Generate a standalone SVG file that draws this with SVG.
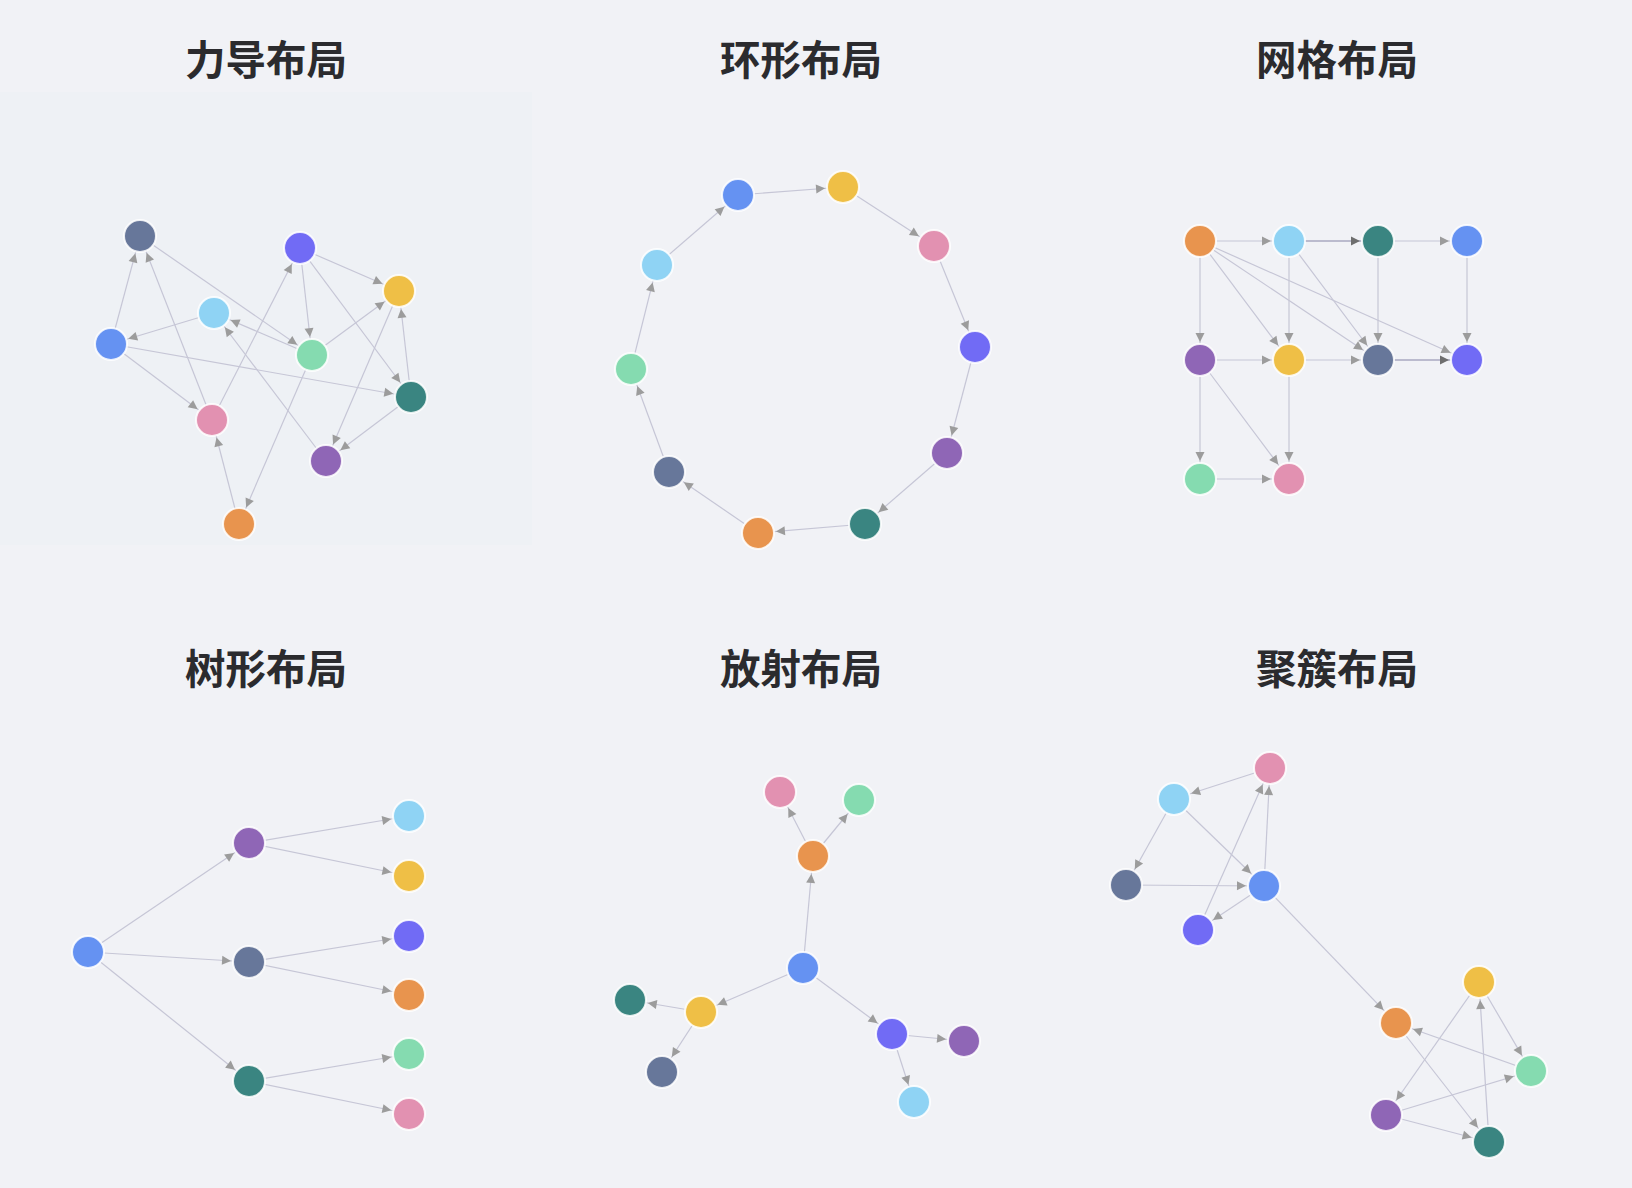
<svg xmlns="http://www.w3.org/2000/svg" width="1632" height="1188" viewBox="0 0 1632 1188">
<style>
.t{font-family:"Noto Sans CJK SC","Noto Sans",sans-serif;font-weight:700;font-size:40.5px;fill:#2b2b2e;text-anchor:middle}
.e{stroke:#c6c6d6;stroke-width:1.2;fill:none;marker-end:url(#ah)}
.d{stroke:#a9a9c0;stroke-width:1.4;fill:none;marker-end:url(#ahd)}
circle{stroke:#fff;stroke-opacity:.85;stroke-width:2}
.sl{fill:#67779a}.in{fill:#716bf5}.ye{fill:#efbf46}.lb{fill:#8fd3f4}.bl{fill:#6592f2}
.gr{fill:#85dbb0}.te{fill:#3a8581}.pk{fill:#e291b1}.pu{fill:#8f66b6}.or{fill:#e8944e}
</style>
<defs>
<marker id="ah" markerUnits="userSpaceOnUse" markerWidth="10" markerHeight="10" refX="27" refY="0" orient="auto" overflow="visible"><path d="M0,-4.5 L9,0 L0,4.5 z" fill="#9c9c9c"/></marker>
<marker id="ahd" markerUnits="userSpaceOnUse" markerWidth="10" markerHeight="10" refX="27" refY="0" orient="auto" overflow="visible"><path d="M0,-4.5 L9,0 L0,4.5 z" fill="#6e6e6e"/></marker>
</defs>
<rect width="1632" height="1188" fill="#f1f2f6"/>
<rect x="0" y="92" width="532" height="453" fill="#eef1f5"/>
<g id="titles">
<text class="t" x="266" y="75">力导布局</text>
<text class="t" x="801" y="75">环形布局</text>
<text class="t" x="1337" y="75">网格布局</text>
<text class="t" x="266" y="684">树形布局</text>
<text class="t" x="801" y="684">放射布局</text>
<text class="t" x="1337" y="684">聚簇布局</text>
</g>
<!-- Force layout -->
<g id="edges-force">
<line class="e" x1="111" y1="344" x2="140" y2="236"/>
<line class="e" x1="212" y1="420" x2="140" y2="236"/>
<line class="e" x1="140" y1="236" x2="312" y2="355"/>
<line class="e" x1="214" y1="313" x2="111" y2="344"/>
<line class="e" x1="312" y1="355" x2="214" y2="313"/>
<line class="e" x1="326" y1="461" x2="214" y2="313"/>
<line class="e" x1="212" y1="420" x2="300" y2="248"/>
<line class="e" x1="300" y1="248" x2="399" y2="291"/>
<line class="e" x1="300" y1="248" x2="312" y2="355"/>
<line class="e" x1="300" y1="248" x2="411" y2="397"/>
<line class="e" x1="312" y1="355" x2="399" y2="291"/>
<line class="e" x1="411" y1="397" x2="399" y2="291"/>
<line class="e" x1="399" y1="291" x2="326" y2="461"/>
<line class="e" x1="411" y1="397" x2="326" y2="461"/>
<line class="e" x1="111" y1="344" x2="411" y2="397"/>
<line class="e" x1="111" y1="344" x2="212" y2="420"/>
<line class="e" x1="239" y1="524" x2="212" y2="420"/>
<line class="e" x1="312" y1="355" x2="239" y2="524"/>
</g>
<g id="force-slate"><circle class="sl" cx="140" cy="236" r="16"/></g>
<g id="force-indigo"><circle class="in" cx="300" cy="248" r="16"/></g>
<g id="force-yellow"><circle class="ye" cx="399" cy="291" r="16"/></g>
<g id="force-lightblue"><circle class="lb" cx="214" cy="313" r="16"/></g>
<g id="force-blue"><circle class="bl" cx="111" cy="344" r="16"/></g>
<g id="force-green"><circle class="gr" cx="312" cy="355" r="16"/></g>
<g id="force-teal"><circle class="te" cx="411" cy="397" r="16"/></g>
<g id="force-pink"><circle class="pk" cx="212" cy="420" r="16"/></g>
<g id="force-purple"><circle class="pu" cx="326" cy="461" r="16"/></g>
<g id="force-orange"><circle class="or" cx="239" cy="524" r="16"/></g>
<!-- Circular layout -->
<g id="edges-circular">
<line class="e" x1="738" y1="195" x2="843" y2="187"/>
<line class="e" x1="843" y1="187" x2="934" y2="246"/>
<line class="e" x1="934" y1="246" x2="975" y2="347"/>
<line class="e" x1="975" y1="347" x2="947" y2="453"/>
<line class="e" x1="947" y1="453" x2="865" y2="524"/>
<line class="e" x1="865" y1="524" x2="758" y2="533"/>
<line class="e" x1="758" y1="533" x2="669" y2="472"/>
<line class="e" x1="669" y1="472" x2="631" y2="369"/>
<line class="e" x1="631" y1="369" x2="657" y2="265"/>
<line class="e" x1="657" y1="265" x2="738" y2="195"/>
</g>
<g id="circ-blue"><circle class="bl" cx="738" cy="195" r="16"/></g>
<g id="circ-yellow"><circle class="ye" cx="843" cy="187" r="16"/></g>
<g id="circ-pink"><circle class="pk" cx="934" cy="246" r="16"/></g>
<g id="circ-indigo"><circle class="in" cx="975" cy="347" r="16"/></g>
<g id="circ-purple"><circle class="pu" cx="947" cy="453" r="16"/></g>
<g id="circ-teal"><circle class="te" cx="865" cy="524" r="16"/></g>
<g id="circ-orange"><circle class="or" cx="758" cy="533" r="16"/></g>
<g id="circ-slate"><circle class="sl" cx="669" cy="472" r="16"/></g>
<g id="circ-green"><circle class="gr" cx="631" cy="369" r="16"/></g>
<g id="circ-lightblue"><circle class="lb" cx="657" cy="265" r="16"/></g>
<!-- Grid layout -->
<g id="edges-grid">
<line class="e" x1="1200" y1="241" x2="1289" y2="241"/>
<line class="d" x1="1289" y1="241" x2="1378" y2="241"/>
<line class="e" x1="1378" y1="241" x2="1467" y2="241"/>
<line class="e" x1="1200" y1="241" x2="1200" y2="360"/>
<line class="e" x1="1200" y1="241" x2="1289" y2="360"/>
<line class="e" x1="1200" y1="241" x2="1378" y2="360"/>
<line class="e" x1="1200" y1="241" x2="1467" y2="360"/>
<line class="e" x1="1289" y1="241" x2="1289" y2="360"/>
<line class="e" x1="1289" y1="241" x2="1378" y2="360"/>
<line class="e" x1="1378" y1="241" x2="1378" y2="360"/>
<line class="e" x1="1467" y1="241" x2="1467" y2="360"/>
<line class="e" x1="1200" y1="360" x2="1289" y2="360"/>
<line class="e" x1="1289" y1="360" x2="1378" y2="360"/>
<line class="d" x1="1378" y1="360" x2="1467" y2="360"/>
<line class="e" x1="1200" y1="360" x2="1200" y2="479"/>
<line class="e" x1="1200" y1="360" x2="1289" y2="479"/>
<line class="e" x1="1289" y1="360" x2="1289" y2="479"/>
<line class="e" x1="1200" y1="479" x2="1289" y2="479"/>
</g>
<g id="grid-orange"><circle class="or" cx="1200" cy="241" r="16"/></g>
<g id="grid-lightblue"><circle class="lb" cx="1289" cy="241" r="16"/></g>
<g id="grid-teal"><circle class="te" cx="1378" cy="241" r="16"/></g>
<g id="grid-blue"><circle class="bl" cx="1467" cy="241" r="16"/></g>
<g id="grid-purple"><circle class="pu" cx="1200" cy="360" r="16"/></g>
<g id="grid-yellow"><circle class="ye" cx="1289" cy="360" r="16"/></g>
<g id="grid-slate"><circle class="sl" cx="1378" cy="360" r="16"/></g>
<g id="grid-indigo"><circle class="in" cx="1467" cy="360" r="16"/></g>
<g id="grid-green"><circle class="gr" cx="1200" cy="479" r="16"/></g>
<g id="grid-pink"><circle class="pk" cx="1289" cy="479" r="16"/></g>
<!-- Tree layout -->
<g id="edges-tree">
<line class="e" x1="88" y1="952" x2="249" y2="843"/>
<line class="e" x1="88" y1="952" x2="249" y2="962"/>
<line class="e" x1="88" y1="952" x2="249" y2="1081"/>
<line class="e" x1="249" y1="843" x2="409" y2="816"/>
<line class="e" x1="249" y1="843" x2="409" y2="876"/>
<line class="e" x1="249" y1="962" x2="409" y2="936"/>
<line class="e" x1="249" y1="962" x2="409" y2="995"/>
<line class="e" x1="249" y1="1081" x2="409" y2="1054"/>
<line class="e" x1="249" y1="1081" x2="409" y2="1114"/>
</g>
<g id="tree-root"><circle class="bl" cx="88" cy="952" r="16"/></g>
<g id="tree-purple"><circle class="pu" cx="249" cy="843" r="16"/></g>
<g id="tree-slate"><circle class="sl" cx="249" cy="962" r="16"/></g>
<g id="tree-teal"><circle class="te" cx="249" cy="1081" r="16"/></g>
<g id="tree-lightblue"><circle class="lb" cx="409" cy="816" r="16"/></g>
<g id="tree-yellow"><circle class="ye" cx="409" cy="876" r="16"/></g>
<g id="tree-indigo"><circle class="in" cx="409" cy="936" r="16"/></g>
<g id="tree-orange"><circle class="or" cx="409" cy="995" r="16"/></g>
<g id="tree-green"><circle class="gr" cx="409" cy="1054" r="16"/></g>
<g id="tree-pink"><circle class="pk" cx="409" cy="1114" r="16"/></g>
<!-- Radial layout -->
<g id="edges-radial">
<line class="e" x1="803" y1="968" x2="813" y2="856"/>
<line class="e" x1="813" y1="856" x2="780" y2="792"/>
<line class="e" x1="813" y1="856" x2="859" y2="800"/>
<line class="e" x1="803" y1="968" x2="701" y2="1012"/>
<line class="e" x1="701" y1="1012" x2="630" y2="1000"/>
<line class="e" x1="701" y1="1012" x2="662" y2="1072"/>
<line class="e" x1="803" y1="968" x2="892" y2="1034"/>
<line class="e" x1="892" y1="1034" x2="964" y2="1041"/>
<line class="e" x1="892" y1="1034" x2="914" y2="1102"/>
</g>
<g id="radial-pink"><circle class="pk" cx="780" cy="792" r="16"/></g>
<g id="radial-green"><circle class="gr" cx="859" cy="800" r="16"/></g>
<g id="radial-orange"><circle class="or" cx="813" cy="856" r="16"/></g>
<g id="radial-center"><circle class="bl" cx="803" cy="968" r="16"/></g>
<g id="radial-teal"><circle class="te" cx="630" cy="1000" r="16"/></g>
<g id="radial-yellow"><circle class="ye" cx="701" cy="1012" r="16"/></g>
<g id="radial-slate"><circle class="sl" cx="662" cy="1072" r="16"/></g>
<g id="radial-indigo"><circle class="in" cx="892" cy="1034" r="16"/></g>
<g id="radial-purple"><circle class="pu" cx="964" cy="1041" r="16"/></g>
<g id="radial-lightblue"><circle class="lb" cx="914" cy="1102" r="16"/></g>
<!-- Cluster layout -->
<g id="edges-cluster">
<line class="e" x1="1270" y1="768" x2="1174" y2="799"/>
<line class="e" x1="1174" y1="799" x2="1126" y2="885"/>
<line class="e" x1="1174" y1="799" x2="1264" y2="886"/>
<line class="e" x1="1126" y1="885" x2="1264" y2="886"/>
<line class="e" x1="1264" y1="886" x2="1270" y2="768"/>
<line class="e" x1="1198" y1="930" x2="1270" y2="768"/>
<line class="e" x1="1264" y1="886" x2="1198" y2="930"/>
<line class="e" x1="1264" y1="886" x2="1396" y2="1023"/>
<line class="e" x1="1479" y1="982" x2="1531" y2="1071"/>
<line class="e" x1="1531" y1="1071" x2="1396" y2="1023"/>
<line class="e" x1="1479" y1="982" x2="1386" y2="1115"/>
<line class="e" x1="1489" y1="1142" x2="1479" y2="982"/>
<line class="e" x1="1396" y1="1023" x2="1489" y2="1142"/>
<line class="e" x1="1386" y1="1115" x2="1531" y2="1071"/>
<line class="e" x1="1386" y1="1115" x2="1489" y2="1142"/>
</g>
<g id="cluster-pink"><circle class="pk" cx="1270" cy="768" r="16"/></g>
<g id="cluster-lightblue"><circle class="lb" cx="1174" cy="799" r="16"/></g>
<g id="cluster-slate"><circle class="sl" cx="1126" cy="885" r="16"/></g>
<g id="cluster-blue"><circle class="bl" cx="1264" cy="886" r="16"/></g>
<g id="cluster-indigo"><circle class="in" cx="1198" cy="930" r="16"/></g>
<g id="cluster-yellow"><circle class="ye" cx="1479" cy="982" r="16"/></g>
<g id="cluster-orange"><circle class="or" cx="1396" cy="1023" r="16"/></g>
<g id="cluster-green"><circle class="gr" cx="1531" cy="1071" r="16"/></g>
<g id="cluster-purple"><circle class="pu" cx="1386" cy="1115" r="16"/></g>
<g id="cluster-teal"><circle class="te" cx="1489" cy="1142" r="16"/></g>
</svg>
